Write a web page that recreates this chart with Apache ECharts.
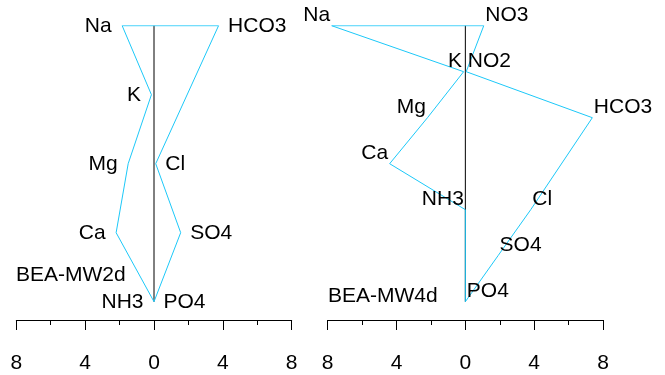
<!DOCTYPE html>
<html><head><meta charset="utf-8">
<script src="https://cdn.jsdelivr.net/npm/echarts@6/dist/echarts.min.js"></script>
<style>html,body{margin:0;padding:0;background:#fff}#c{width:665px;height:375px}</style>
</head><body><div id="c"></div>
<script>
// Axis range / tick labels (absolute values shown on both sides)
const axisMin = -8, axisMax = 8, axisStep = 4;

// Sample 1 (left panel)
const s1Name = 'BEA-MW2d';
const s1Cations = ['Na', 'K', 'Mg', 'Ca', 'NH3'];
const s1CationVals = [1.85, 0.15, 1.5, 2.2, 0.0];
const s1CationLevels = [0, 1, 2, 3, 4];
const s1Anions = ['HCO3', 'Cl', 'SO4', 'PO4'];
const s1AnionVals = [3.75, 0.1, 1.55, 0.0];
const s1AnionLevels = [0, 2, 3, 4];

// Sample 2 (right panel)
const s2Name = 'BEA-MW4d';
const s2Cations = ['Na', 'K', 'Mg', 'Ca', 'NH3'];
const s2CationVals = [7.77, 0.1, 2.2, 4.4, 0.0];
const s2CationLevels = [0, 1, 2, 3, 4];
const s2Anions = ['NO3', 'NO2', 'HCO3', 'Cl', 'SO4', 'PO4'];
const s2AnionVals = [1.07, 0.05, 7.38, 3.8, 1.9, 0.0];
const s2AnionLevels = [0, 1, 2, 4, 5, 6];

const FONT = 'Liberation Sans, Arial, Helvetica, sans-serif';
const FS = 21;
const CYAN = '#1cc8f8';

function polygon(cv, cl, av, al) {
  const pts = [];
  for (let i = 0; i < cv.length; i++) pts.push([-cv[i], cl[i]]);
  for (let i = av.length - 1; i >= 0; i--) pts.push([av[i], al[i]]);
  pts.push([-cv[0], cl[0]]);
  return pts;
}
function labelPts(names, vals, levels, sign) {
  return names.map((n, i) => ({ name: n, value: [sign * vals[i], levels[i]] }));
}

const grids = [
  { left: 16.3, top: 25.7, width: 275.4, height: 276 },
  { left: 327.7, top: 25.7, width: 275.3, height: 276 }
];
const maxLevels = [4, 6];

const xAxes = grids.map((g, i) => ({
  type: 'value', gridIndex: i, min: axisMin, max: axisMax, interval: axisStep,
  offset: 18.3,
  axisLine: { show: true, onZero: false, lineStyle: { color: '#000', width: 1 } },
  axisTick: { show: true, length: 10, lineStyle: { color: '#000', width: 1 } },
  minorTick: { show: true, splitNumber: 2, length: 5, lineStyle: { color: '#000', width: 1 } },
  splitLine: { show: false }, minorSplitLine: { show: false },
  axisLabel: { fontSize: FS, color: '#000', fontFamily: FONT, margin: 33, formatter: v => String(Math.abs(v)) }
}));
const yAxes = grids.map((g, i) => ({
  type: 'value', gridIndex: i, min: 0, max: maxLevels[i], inverse: true, show: false
}));

const series = [];
const panels = [
  { cN: s1Cations, cV: s1CationVals, cL: s1CationLevels, aN: s1Anions, aV: s1AnionVals, aL: s1AnionLevels, style: 'side' },
  { cN: s2Cations, cV: s2CationVals, cL: s2CationLevels, aN: s2Anions, aV: s2AnionVals, aL: s2AnionLevels, style: 'above' }
];
panels.forEach((p, i) => {
  series.push({
    type: 'line', xAxisIndex: i, yAxisIndex: i, symbol: 'none', silent: true, z: 1,
    lineStyle: { color: '#000', width: 1 }, data: [[0, 0], [0, maxLevels[i]]]
  });
  series.push({
    type: 'line', xAxisIndex: i, yAxisIndex: i, symbol: 'none', silent: true, z: 2,
    lineStyle: { color: CYAN, width: 1 }, data: polygon(p.cV, p.cL, p.aV, p.aL)
  });
  const cLabel = p.style === 'side'
    ? { position: [-10, 1], align: 'right', verticalAlign: 'middle' }
    : { position: [-1, 1], align: 'right', verticalAlign: 'bottom' };
  const aLabel = p.style === 'side'
    ? { position: [10, 1], align: 'left', verticalAlign: 'middle' }
    : { position: [2, 1], align: 'left', verticalAlign: 'bottom' };
  [[p.cN, p.cV, p.cL, -1, cLabel], [p.aN, p.aV, p.aL, 1, aLabel]].forEach(([n, v, l, s, lab]) => {
    series.push({
      type: 'scatter', xAxisIndex: i, yAxisIndex: i, symbol: 'rect', symbolSize: 1, silent: true, z: 3,
      itemStyle: { color: 'rgba(0,0,0,0)' },
      label: Object.assign({
        show: true, formatter: '{b}', fontSize: FS, color: '#000', fontFamily: FONT,
        textBorderWidth: 0, textBorderColor: 'transparent', opacity: 1
      }, lab),
      data: labelPts(n, v, l, s)
    });
  });
});

const chart = echarts.init(document.getElementById('c'), null, { renderer: 'canvas' });
chart.setOption({
  animation: false,
  backgroundColor: '#fff',
  grid: grids,
  xAxis: xAxes,
  yAxis: yAxes,
  series: series,
  graphic: [
    { type: 'text', left: 16, top: 265, style: { text: s1Name, fontSize: FS, fill: '#000', fontFamily: FONT } },
    { type: 'text', left: 328, top: 286, style: { text: s2Name, fontSize: FS, fill: '#000', fontFamily: FONT } }
  ]
});
</script></body></html>
